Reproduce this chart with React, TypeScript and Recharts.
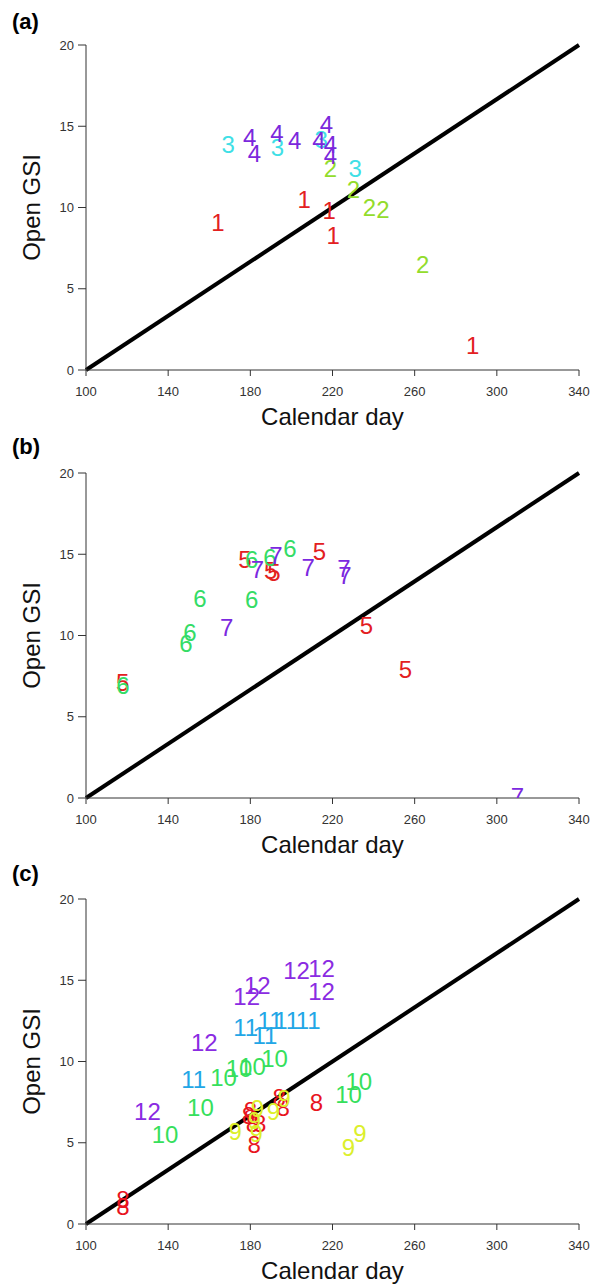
import { ScatterChart, Scatter, XAxis, YAxis, ReferenceLine, Label } from 'recharts';

// Calendar day / open GSI, one array per study number
const s1 = [{ x: 164.2, y: 9.1 }, { x: 206.2, y: 10.5 }, { x: 218.4, y: 9.8 }, { x: 220.3, y: 8.3 }, { x: 288.2, y: 1.5 }];
const s2 = [{ x: 219, y: 12.4 }, { x: 230.2, y: 11.1 }, { x: 238, y: 10.0 }, { x: 244.6, y: 9.9 }, { x: 263.9, y: 6.5 }];
const s3 = [{ x: 169.2, y: 13.9 }, { x: 193.2, y: 13.7 }, { x: 214.5, y: 14.2 }, { x: 231, y: 12.4 }];
const s4 = [
  { x: 179.7, y: 14.3 }, { x: 182, y: 13.3 }, { x: 192.9, y: 14.55 }, { x: 201.6, y: 14.1 },
  { x: 213.4, y: 14.1 }, { x: 217.1, y: 15.1 }, { x: 219, y: 13.9 }, { x: 219, y: 13.2 },
];

const s5 = [
  { x: 117.8, y: 7.1 }, { x: 177.4, y: 14.7 }, { x: 189.9, y: 14.0 }, { x: 191.5, y: 13.9 },
  { x: 213.6, y: 15.2 }, { x: 236.5, y: 10.6 }, { x: 255.5, y: 7.9 },
];
const s6 = [
  { x: 118, y: 6.9 }, { x: 148.7, y: 9.5 }, { x: 150.6, y: 10.2 }, { x: 155.5, y: 12.3 },
  { x: 180.7, y: 12.2 }, { x: 180.7, y: 14.7 }, { x: 189.6, y: 14.8 }, { x: 199.3, y: 15.35 },
];
const s7 = [
  { x: 168.5, y: 10.5 }, { x: 183.4, y: 14.05 }, { x: 192.5, y: 14.9 }, { x: 208.2, y: 14.2 },
  { x: 225.6, y: 14.1 }, { x: 226.1, y: 13.7 }, { x: 310, y: 0.1 },
];

const s8 = [
  { x: 118, y: 1.5 }, { x: 118, y: 1.1 }, { x: 179.1, y: 6.65 }, { x: 180, y: 7.0 }, { x: 181, y: 6.2 },
  { x: 184.5, y: 6.2 }, { x: 181.9, y: 4.9 }, { x: 194.1, y: 7.8 }, { x: 196, y: 7.2 }, { x: 212.2, y: 7.5 },
];
const s9 = [
  { x: 172.6, y: 5.7 }, { x: 182.9, y: 5.6 }, { x: 183.4, y: 7.1 }, { x: 182, y: 6.4 },
  { x: 191.3, y: 6.9 }, { x: 196.5, y: 7.7 }, { x: 227.8, y: 4.7 }, { x: 233.4, y: 5.6 },
];
const s10 = [
  { x: 138.5, y: 5.5 }, { x: 155.7, y: 7.2 }, { x: 167, y: 9.0 }, { x: 174.5, y: 9.6 },
  { x: 181, y: 9.7 }, { x: 191.8, y: 10.2 }, { x: 227.8, y: 8.0 }, { x: 232.8, y: 8.8 },
];
const s11 = [
  { x: 152.4, y: 8.9 }, { x: 177.7, y: 12.1 }, { x: 187.1, y: 11.6 }, { x: 189.6, y: 12.5 },
  { x: 197.7, y: 12.5 }, { x: 208.2, y: 12.5 },
];
const s12 = [
  { x: 129.9, y: 6.9 }, { x: 157.6, y: 11.2 }, { x: 178.2, y: 14.0 }, { x: 183.4, y: 14.7 },
  { x: 202.5, y: 15.6 }, { x: 214.7, y: 15.7 }, { x: 214.7, y: 14.3 },
];

const dayTicks = [100, 140, 180, 220, 260, 300, 340];
const gsiTicks = [0, 5, 10, 15, 20];
const oneToOne = [{ x: 100, y: 0 }, { x: 340, y: 20 }];

const panels = [
  {
    letter: '(a)', top: 0, labelTop: 9,
    series: [
      { name: '1', data: s1, color: '#e3201f' },
      { name: '2', data: s2, color: '#93dc2c' },
      { name: '3', data: s3, color: '#3fdfe6' },
      { name: '4', data: s4, color: '#7b28dc' },
    ],
  },
  {
    letter: '(b)', top: 428, labelTop: 434,
    series: [
      { name: '5', data: s5, color: '#e3201f' },
      { name: '6', data: s6, color: '#34dc66' },
      { name: '7', data: s7, color: '#7b28e0' },
    ],
  },
  {
    letter: '(c)', top: 854, labelTop: 861,
    series: [
      { name: '8', data: s8, color: '#e8141e' },
      { name: '9', data: s9, color: '#dcef2c' },
      { name: '10', data: s10, color: '#36df5c' },
      { name: '11', data: s11, color: '#22a6e6' },
      { name: '12', data: s12, color: '#8a2be2' },
    ],
  },
];

const font = '"Liberation Sans", Arial, sans-serif';

const numberShape = (label: string, color: string) => (props: any) => (
  <text
    x={props.cx}
    y={props.cy}
    fill={color}
    fontSize={24}
    fontFamily={font}
    textAnchor="middle"
    dominantBaseline="central"
  >
    {label}
  </text>
);

function Panel({ panel }: { panel: any }) {
  return (
    <div style={{ position: 'absolute', left: 0, top: panel.top }}>
      <ScatterChart width={601} height={432} margin={{ top: 45, right: 22, bottom: 4, left: 0 }} style={{ fontFamily: font }}>
        <XAxis
          type="number"
          dataKey="x"
          domain={[100, 340]}
          ticks={dayTicks}
          allowDataOverflow
          height={58}
          tickSize={6}
          tickMargin={11}
          stroke="#333"
          tick={{ fill: '#333', fontSize: 13 }}
        >
          <Label value="Calendar day" position="insideBottom" offset={3} fontSize={24} fill="#111" />
        </XAxis>
        <YAxis
          type="number"
          dataKey="y"
          domain={[0, 20]}
          ticks={gsiTicks}
          allowDataOverflow
          width={86}
          tickSize={8}
          tickMargin={4}
          stroke="#333"
          tick={{ fill: '#333', fontSize: 13 }}
        >
          <Label value="Open GSI" angle={-90} position="insideLeft" offset={31} fontSize={24} fill="#111" style={{ textAnchor: 'middle' }} />
        </YAxis>
        <ReferenceLine segment={oneToOne} stroke="#000" strokeWidth={4} ifOverflow="visible" />
        {panel.series.map((s: any) => (
          <Scatter key={s.name} data={s.data} shape={numberShape(s.name, s.color)} isAnimationActive={false} />
        ))}
      </ScatterChart>
    </div>
  );
}

export default function App() {
  return (
    <div style={{ position: 'absolute', left: 0, top: 0, width: 601, height: 1286, background: '#fff', fontFamily: font }}>
      {panels.map((p) => (
        <div key={p.letter}>
          <Panel panel={p} />
          <div style={{ position: 'absolute', left: 12, top: p.labelTop, fontSize: 22, fontWeight: 'bold', color: '#000' }}>
            {p.letter}
          </div>
        </div>
      ))}
    </div>
  );
}
